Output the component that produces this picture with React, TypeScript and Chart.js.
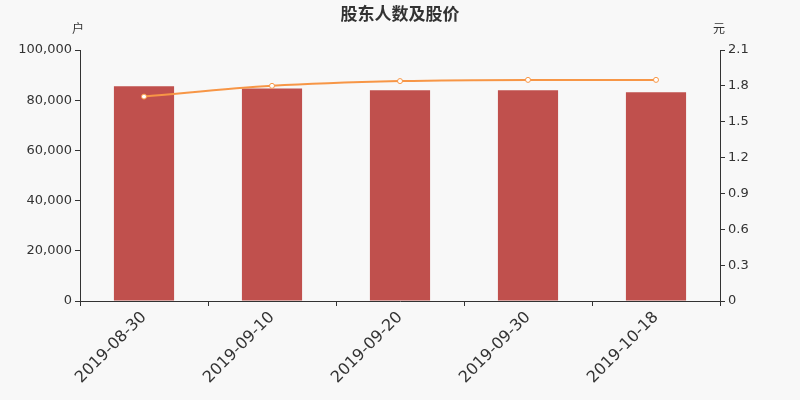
import { useEffect, useRef } from 'react';
import { Chart, registerables } from 'chart.js';

Chart.register(...registerables);

const dates = ['2019-08-30', '2019-09-10', '2019-09-20', '2019-09-30', '2019-10-18'];
const holders = [85600, 84700, 84000, 84000, 83200];
const prices = [1.71, 1.8, 1.84, 1.85, 1.85];

const TITLE = '股东人数及股价';
const LEFT_UNIT = '户';
const RIGHT_UNIT = '元';

const textPlugin = {
  id: 'extraText',
  afterDraw(chart: Chart) {
    const ctx = chart.ctx;
    const area = chart.chartArea;
    ctx.save();
    ctx.fillStyle = '#333';
    ctx.textBaseline = 'middle';
    ctx.textAlign = 'center';
    ctx.font = 'bold 17px "Noto Sans CJK SC", sans-serif';
    ctx.fillText(TITLE, chart.width / 2, 14);
    ctx.font = '12px "Noto Sans CJK SC", sans-serif';
    ctx.fillText(LEFT_UNIT, area.left - 2, 28);
    ctx.fillText(RIGHT_UNIT, area.right - 1, 28);
    ctx.restore();
  },
};

export default function App() {
  const canvasRef = useRef<HTMLCanvasElement>(null);

  useEffect(() => {
    document.body.style.margin = '0';
    document.body.style.background = '#f8f8f8';
    if (!canvasRef.current) return;

    const tickFont = { family: '"DejaVu Sans", sans-serif', size: 13 };
    const axisLine = { display: true, color: '#333', width: 1 };

    const chart = new Chart(canvasRef.current, {
      type: 'bar',
      data: {
        labels: dates,
        datasets: [
          {
            type: 'line',
            data: prices,
            yAxisID: 'y1',
            borderColor: '#f79646',
            borderWidth: 2,
            pointRadius: 2.5,
            pointBackgroundColor: '#fff',
            pointBorderColor: '#f79646',
            pointBorderWidth: 1,
            cubicInterpolationMode: 'monotone',
            order: 0,
          },
          {
            type: 'bar',
            data: holders,
            yAxisID: 'y',
            backgroundColor: '#c0504d',
            categoryPercentage: 1,
            barPercentage: 0.47,
            order: 1,
          },
        ],
      },
      options: {
        responsive: false,
        animation: false,
        layout: { padding: { top: 50, left: 0, right: 0, bottom: 0 } },
        plugins: {
          legend: { display: false },
          title: { display: false },
          tooltip: { enabled: false },
        },
        scales: {
          x: {
            grid: { drawOnChartArea: false, drawTicks: true, tickLength: 5, color: '#333', offset: true },
            border: axisLine,
            ticks: {
              color: '#333',
              font: { family: '"DejaVu Sans", sans-serif', size: 16 },
              minRotation: 45,
              maxRotation: 45,
              padding: 2,
            },
            afterFit: (s: any) => { s.height = 99; },
          },
          y: {
            position: 'left',
            min: 0,
            max: 100000,
            grid: { drawOnChartArea: false, drawTicks: true, tickLength: 5, color: '#333' },
            border: axisLine,
            ticks: {
              stepSize: 20000,
              color: '#333',
              font: tickFont,
              padding: 3,
              callback: (v: any) => Number(v).toLocaleString('en-US'),
            },
            afterFit: (s: any) => { s.width = 80; },
          },
          y1: {
            position: 'right',
            min: 0,
            max: 2.1,
            grid: { drawOnChartArea: false, drawTicks: true, tickLength: 5, color: '#333' },
            border: axisLine,
            ticks: {
              stepSize: 0.3,
              color: '#333',
              font: tickFont,
              padding: 3,
              callback: (v: any) => (Number(v) === 0 ? '0' : Number(v).toFixed(1)),
            },
            afterFit: (s: any) => { s.width = 80; },
          },
        },
      },
      plugins: [textPlugin],
    });

    return () => chart.destroy();
  }, []);

  return (
    <div style={{ width: 800, height: 400, background: '#f8f8f8' }}>
      <canvas ref={canvasRef} width={800} height={400} />
    </div>
  );
}
